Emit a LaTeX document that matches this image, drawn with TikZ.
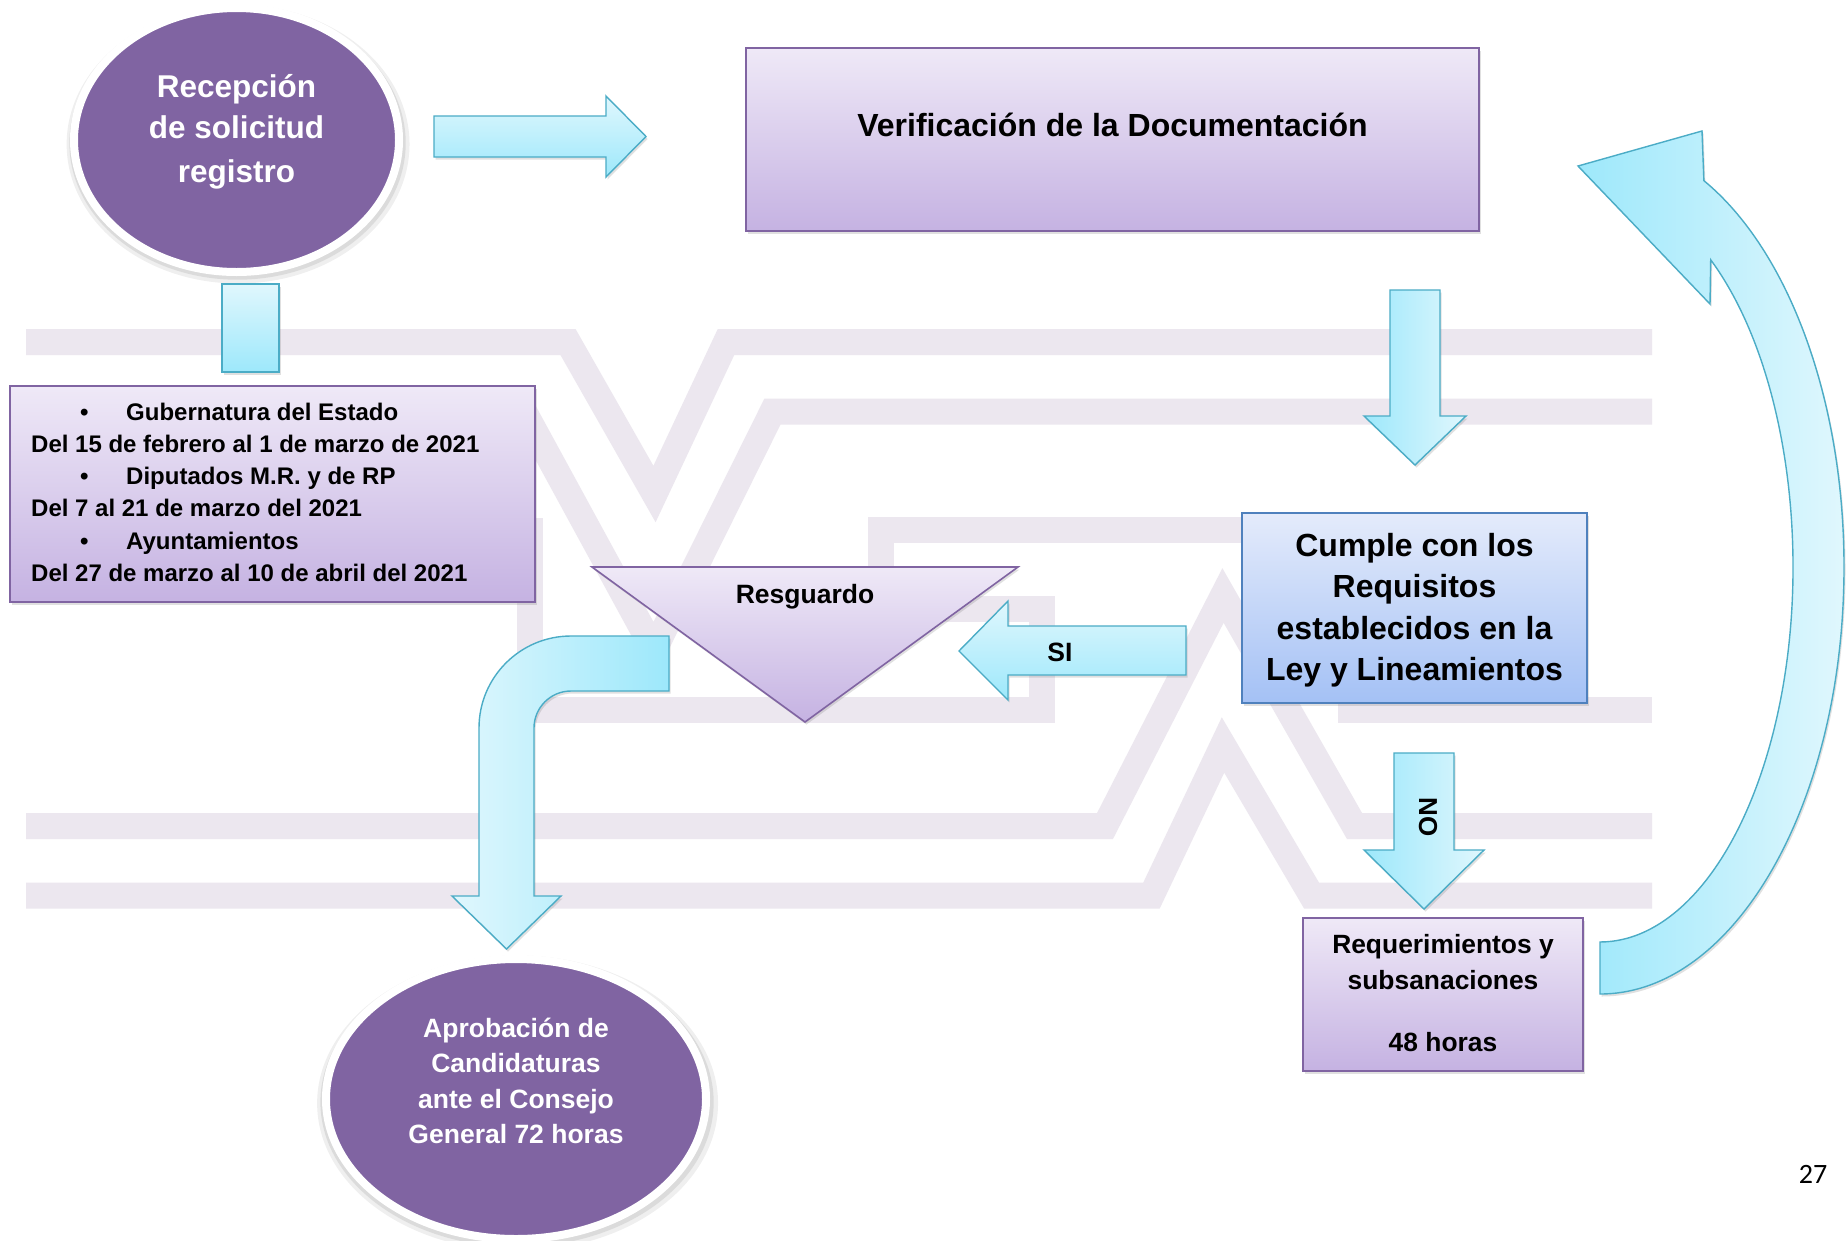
\documentclass[tikz,border=0pt]{standalone}
\usepackage{fontspec}
\setmainfont{Liberation Sans}
\newfontfamily\pagefont{Carlito}
\usetikzlibrary{shapes.geometric,shadows}
\newcommand\myfs[1]{\fontsize{#1}{#1}\selectfont}
\definecolor{wmc}{HTML}{ECE7EF}
\definecolor{ipurple}{HTML}{8064A2}
\definecolor{lavtop}{HTML}{EFE9F7}
\definecolor{lavbot}{HTML}{C5B2E2}
\definecolor{bluetop}{HTML}{E4EBFB}
\definecolor{bluebot}{HTML}{A4C1F5}
\definecolor{blueline}{HTML}{4F81BD}
\definecolor{cyandark}{HTML}{9DE8FB}
\definecolor{cyanlight}{HTML}{E0F7FD}
\definecolor{aquaedge}{HTML}{4BACC6}
\begin{document}
\begin{tikzpicture}[x=1pt,y=1pt,
  wm/.style={draw=wmc,line width=26pt,line join=miter},
  softshade/.style={drop shadow={opacity=0.22,fill=black!55,shadow xshift=1.5pt,shadow yshift=-2.5pt}},
  lavbox/.style={rectangle,draw=ipurple,line width=1.6pt,top color=lavtop,bottom color=lavbot,inner sep=0pt,softshade},
  bluebox/.style={rectangle,draw=blueline,line width=1.6pt,top color=bluetop,bottom color=bluebot,inner sep=0pt,softshade},
  blockarrow/.style={draw=aquaedge,line width=1.4pt,line join=miter,softshade},
  vshade/.style={top color=cyanlight,bottom color=cyandark},
  dkleft/.style={left color=cyandark,right color=cyanlight},
  dkright/.style={left color=cyanlight,right color=cyandark},
  bubble/.style={ellipse,fill=ipurple,draw=white,line width=8pt,inner sep=0pt,
    drop shadow={opacity=0.10,fill=black!60,shadow scale=1.055,shadow xshift=1.5pt,shadow yshift=-4pt},
    drop shadow={opacity=0.14,fill=black!60,shadow scale=1.035,shadow xshift=1pt,shadow yshift=-3pt}},
  wtxt/.style={anchor=base,inner sep=0pt,text=white,font=\bfseries\myfs{#1}},
  btxt/.style={anchor=base,inner sep=0pt,text=black,font=\bfseries\myfs{#1}},
  dtxt/.style={anchor=base west,inner sep=0pt,text=black,font=\bfseries\myfs{24}},
]
\useasboundingbox (0,0) rectangle (1847,-1240);
\fill[white] (0,0) rectangle (1847,-1240);

% watermark
\draw[wm] (26,-342) -- (568,-342) -- (654.5,-494) -- (726,-342) -- (1652,-342);
\draw[wm] (450,-411.5) -- (524,-411.5) -- (654,-650) -- (772.5,-411.5) -- (1652,-411.5);
\draw[wm] (529.5,-518) -- (529.5,-709.5) -- (1041.5,-709.5) -- (1041.5,-608.5) -- (900,-608.5);
\draw[wm] (880.5,-600) -- (880.5,-529.5) -- (1351,-529.5) -- (1351,-709.5) -- (1652,-709.5);
\draw[wm] (26,-826) -- (1105,-826) -- (1223,-595.5) -- (1354.5,-826) -- (1652,-826);
\draw[wm] (26,-895.5) -- (1151.5,-895.5) -- (1223,-745) -- (1311.5,-895.5) -- (1652,-895.5);

% Recepcion
\node[bubble,minimum width=325pt,minimum height=264pt] (recC) at (236.5,-140) {};
\node[wtxt=31.5] (rec1) at (236.5,-97) {Recepción};
\node[wtxt=31.5] (rec2) at (236.5,-138.5) {de solicitud};
\node[wtxt=31.5] (rec3) at (236.5,-182) {registro};

% arrow to Verificacion
\draw[blockarrow,vshade] (434,-116) -- (606,-116) -- (606,-96) -- (646,-136.5) -- (606,-177) -- (606,-157) -- (434,-157) -- cycle;

% connector to dates box
\draw[blockarrow,vshade] (222,-284) rectangle (279,-372);

% Verificacion
\node[lavbox,minimum width=733pt,minimum height=183pt] (verB) at (1112.5,-139.5) {};
\node[btxt=32] (verT) at (1112.5,-136) {Verificación de la Documentación};

% dates box
\node[lavbox,minimum width=525pt,minimum height=216pt] (datB) at (272.5,-494) {};
\node[dtxt] (dat1) at (80,-420) {\makebox[46pt][l]{•}Gubernatura del Estado};
\node[dtxt] (dat2) at (31,-452) {Del 15 de febrero al 1 de marzo de 2021};
\node[dtxt] (dat3) at (80,-484.5) {\makebox[46pt][l]{•}Diputados M.R. y de RP};
\node[dtxt] (dat4) at (31,-516.5) {Del 7 al 21 de marzo del 2021};
\node[dtxt] (dat5) at (80,-549) {\makebox[46pt][l]{•}Ayuntamientos};
\node[dtxt] (dat6) at (31,-581) {Del 27 de marzo al 10 de abril del 2021};

% down arrow to Cumple
\draw[blockarrow,dkleft] (1390,-290) -- (1440,-290) -- (1440,-416) -- (1466,-416) -- (1415,-465) -- (1364,-416) -- (1390,-416) -- cycle;

% Cumple
\node[bluebox,minimum width=345pt,minimum height=190pt] (cumB) at (1414.5,-608) {};
\node[btxt=32] (cum1) at (1414.5,-556) {Cumple con los};
\node[btxt=32] (cum2) at (1414.5,-597.5) {Requisitos};
\node[btxt=32] (cum3) at (1414.5,-639) {establecidos en la};
\node[btxt=32] (cum4) at (1414.5,-680.5) {Ley y Lineamientos};

% SI arrow
\draw[blockarrow,vshade] (1186,-626) -- (1008,-626) -- (1008,-601) -- (959,-651) -- (1008,-700) -- (1008,-675) -- (1186,-675) -- cycle;
\node[btxt=26.5] (siT) at (1060,-661.5) {SI};

% Resguardo triangle
\coordinate (resA) at (592,-567);
\coordinate (resB) at (1018,-567);
\coordinate (resC) at (805,-722);
\draw[draw=ipurple,line width=1.6pt,line join=miter,top color=lavtop,bottom color=lavbot,softshade] (resA) -- (resB) -- (resC) -- cycle;
\node[btxt=26.5] (resT) at (805,-603) {Resguardo};

% bent arrow to Aprobacion
\draw[blockarrow,dkright] (669,-636) -- (571,-636) arc[start angle=90,end angle=180,radius=92] -- (479,-896) -- (452,-896) -- (506.5,-949) -- (561,-896) -- (534,-896) -- (534,-728) arc[start angle=180,end angle=90,radius=37] -- (669,-691) -- cycle;

% NO arrow
\draw[blockarrow,dkleft] (1394,-753) -- (1454,-753) -- (1454,-850) -- (1484,-850) -- (1424,-909) -- (1364,-850) -- (1394,-850) -- cycle;
\node[font=\bfseries\myfs{26},rotate=-90,inner sep=0pt] (noT) at (1428,-817) {NO};

% Requerimientos
\node[lavbox,minimum width=280pt,minimum height=153pt] (reqB) at (1443,-994.5) {};
\node[btxt=26.4] (req1) at (1443,-953) {Requerimientos y};
\node[btxt=26.4] (req2) at (1443,-989) {subsanaciones};
\node[btxt=26.4] (req3) at (1443,-1051) {48 horas};

% curved arrow back to Verificacion
\draw[blockarrow,dkleft] (1600,-994) arc[start angle=-90,end angle=64.8,x radius=244,y radius=427] -- (1702,-131) -- (1578,-166) -- (1710,-304) -- (1710.7,-259.8) arc[start angle=55,end angle=-90,x radius=193,y radius=375] -- cycle;

% Aprobacion
\node[bubble,minimum width=380pt,minimum height=280pt] (aprC) at (516,-1099) {};
\node[wtxt=26.5] (apr1) at (516,-1037) {Aprobación de};
\node[wtxt=26.5] (apr2) at (516,-1072.5) {Candidaturas};
\node[wtxt=26.5] (apr3) at (516,-1108) {ante el Consejo};
\node[wtxt=26.5] (apr4) at (516,-1143) {General 72 horas};

% page number
\node[anchor=base,inner sep=0pt,font=\pagefont\myfs{28}] (pageno) at (1813,-1183) {27};
\end{tikzpicture}
\end{document}
